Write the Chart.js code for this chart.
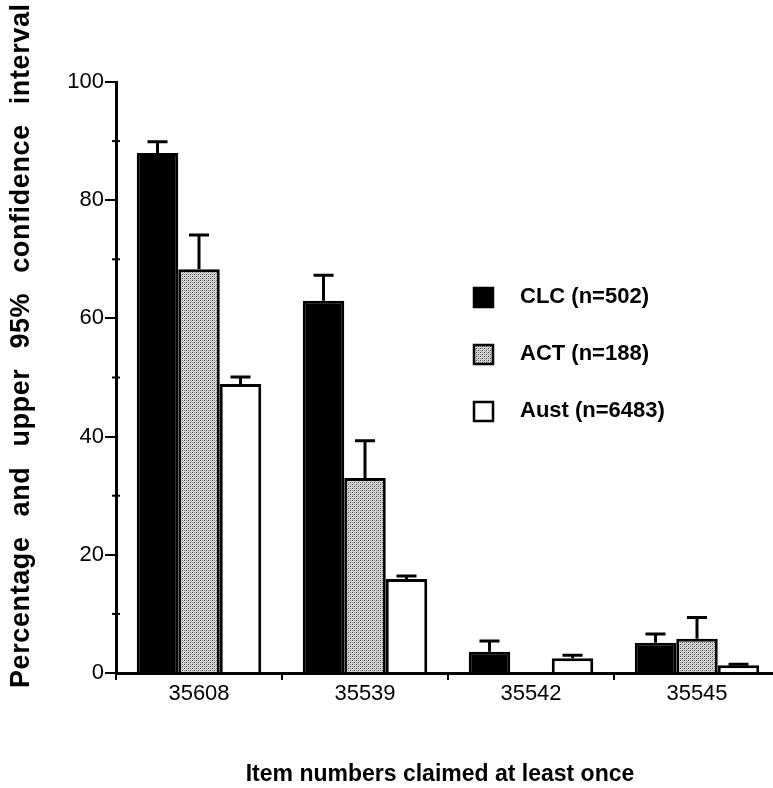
<!DOCTYPE html>
<html>
<head>
<meta charset="utf-8">
<script src="https://cdn.jsdelivr.net/npm/chart.js@4.4.1/dist/chart.umd.min.js"></script>
<style>
  html, body { margin: 0; padding: 0; background: #fff; overflow: hidden; }
  #wrap { width: 773px; height: 788px; overflow: hidden; position: relative; }
  canvas { display: block; }
</style>
</head>
<body>
<div id="wrap"><canvas id="c" width="780" height="788"></canvas></div>
<script>
// ---- data ----
const categories = ['35608', '35539', '35542', '35545'];
const seriesLabels = ['CLC (n=502)', 'ACT (n=188)', 'Aust (n=6483)'];
const clcValues = [88.0, 63.0, 3.6, 5.1];
const clcUpper  = [89.9, 67.3, 5.4, 6.6];
const actValues = [68.3, 33.0, null, 5.8];
const actUpper  = [74.1, 39.3, null, 9.4];
const austValues = [48.9, 15.9, 2.5, 1.3];
const austUpper  = [50.1, 16.4, 3.0, 1.5];
const yTickValues = [0, 20, 40, 60, 80, 100];
const yMinorTickValues = [10, 30, 50, 70, 90];
const xTitle = 'Item numbers claimed at least once';
const yTitle = 'Percentage and upper 95% confidence interval';

// ---- stipple pattern for ACT ----
function makeStipple() {
  const p = document.createElement('canvas');
  p.width = 4; p.height = 4;
  const g = p.getContext('2d');
  g.fillStyle = '#dadada'; g.fillRect(0, 0, 4, 4);
  g.fillStyle = '#444'; g.fillRect(0, 0, 1, 1); g.fillRect(2, 2, 1, 1);
  g.fillStyle = '#8a8a8a'; g.fillRect(2, 0, 1, 1); g.fillRect(0, 2, 1, 1);
  g.fillStyle = '#b0b0b0'; g.fillRect(1, 3, 1, 1); g.fillRect(3, 1, 1, 1);
  return document.getElementById('c').getContext('2d').createPattern(p, 'repeat');
}
const stipple = makeStipple();

const fills = ['#000000', stipple, '#ffffff'];
const uppers = [clcUpper, actUpper, austUpper];

const errorBars = {
  id: 'errorBars',
  afterDatasetsDraw(chart) {
    const ctx = chart.ctx;
    const ys = chart.scales.y;
    ctx.save();
    ctx.strokeStyle = '#000';
    ctx.lineWidth = 3;
    chart.data.datasets.forEach((ds, i) => {
      const meta = chart.getDatasetMeta(i);
      meta.data.forEach((el, j) => {
        const up = uppers[i][j];
        const v = ds.data[j];
        if (up == null || v == null) return;
        const x = el.x;
        const yb = ys.getPixelForValue(v);
        const yt = ys.getPixelForValue(up);
        ctx.beginPath();
        ctx.moveTo(x, yb); ctx.lineTo(x, yt);
        ctx.moveTo(x - 10, yt); ctx.lineTo(x + 10, yt);
        ctx.stroke();
      });
    });
    ctx.restore();
  }
};

const extras = {
  id: 'extras',
  afterDraw(chart) {
    const ctx = chart.ctx;
    const ys = chart.scales.y;
    const left = chart.chartArea.left;
    ctx.save();
    // minor ticks
    ctx.strokeStyle = '#000';
    ctx.lineWidth = 2;
    yMinorTickValues.forEach(v => {
      const y = ys.getPixelForValue(v);
      ctx.beginPath(); ctx.moveTo(left - 4, y); ctx.lineTo(left + 4, y); ctx.stroke();
    });
    // x title
    ctx.fillStyle = '#000';
    ctx.font = 'bold 23px "Liberation Sans", Arial, sans-serif';
    ctx.textAlign = 'center';
    ctx.textBaseline = 'middle';
    ctx.fillText(xTitle, 440, 775);
    // y title, char by char with slight letter spacing and wide word spacing
    ctx.translate(22, 688);
    ctx.rotate(-Math.PI / 2);
    ctx.font = 'bold 27px "Liberation Sans", Arial, sans-serif';
    ctx.textAlign = 'left';
    const ls = 0.6;
    const words = yTitle.split(' ');
    const wordW = w => [...w].reduce((s, ch) => s + ctx.measureText(ch).width + ls, 0) - ls;
    const total = words.reduce((s, w) => s + wordW(w), 0);
    const gap = Math.max(10, (684 - total) / (words.length - 1));
    let x = 0;
    words.forEach(w => {
      let cx = x;
      [...w].forEach(ch => { ctx.fillText(ch, cx, 0); cx += ctx.measureText(ch).width + ls; });
      x += wordW(w) + gap;
    });
    ctx.restore();
    // legend
    ctx.save();
    ctx.font = 'bold 22px "Liberation Sans", Arial, sans-serif';
    ctx.textBaseline = 'middle';
    ctx.textAlign = 'left';
    chart.data.datasets.forEach((ds, i) => {
      const cy = 297 + i * 57;
      ctx.fillStyle = ds.backgroundColor;
      ctx.fillRect(473, cy - 10, 21, 21);
      ctx.strokeStyle = '#000';
      ctx.lineWidth = 2.5;
      ctx.strokeRect(474, cy - 9, 19, 19);
      ctx.fillStyle = '#000';
      ctx.fillText(ds.label, 520, cy);
    });
    ctx.restore();
  }
};

const datasets = [clcValues, actValues, austValues].map((vals, i) => ({
  label: seriesLabels[i],
  data: vals,
  backgroundColor: fills[i],
  borderColor: '#000',
  borderWidth: 3,
  borderSkipped: 'bottom',
  categoryPercentage: 0.75,
  barPercentage: 1.0
}));

const tickFont = { family: '"Liberation Sans", Arial, sans-serif', size: 22 };

new Chart(document.getElementById('c'), {
  type: 'bar',
  data: { labels: categories, datasets },
  options: {
    responsive: false,
    animation: false,
    devicePixelRatio: 1,
    layout: { padding: { top: 82, left: 0, right: 0, bottom: 0 } },
    plugins: { legend: { display: false }, tooltip: { enabled: false }, title: { display: false } },
    scales: {
      x: {
        type: 'category',
        offset: true,
        afterFit(s) { s.height = 115; },
        grid: { display: true, offset: true, drawOnChartArea: false, tickLength: 7, color: '#000', lineWidth: 2 },
        border: { display: true, color: '#000', width: 3 },
        ticks: { color: '#000', padding: 1, font: tickFont }
      },
      y: {
        min: 0, max: 100,
        afterFit(s) { s.width = 116; },
        afterBuildTicks(s) { s.ticks = yTickValues.map(v => ({ value: v })); },
        grid: { display: true, drawOnChartArea: false, tickLength: 11, color: '#000', lineWidth: 2 },
        border: { display: true, color: '#000', width: 3 },
        ticks: { color: '#000', padding: 1, font: tickFont }
      }
    }
  },
  plugins: [errorBars, extras]
});
</script>
</body>
</html>
